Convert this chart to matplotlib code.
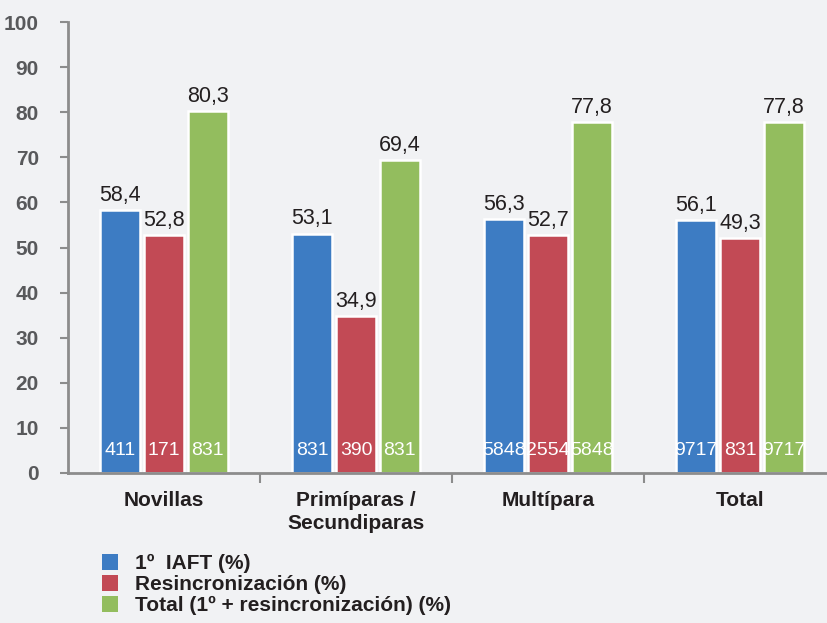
import numpy as np
import matplotlib.pyplot as plt
from matplotlib.patches import Patch

plt.rcParams['font.family'] = ['Liberation Sans', 'DejaVu Sans']

categories = ['Novillas', 'Primíparas /\nSecundiparas', 'Multípara', 'Total']
series = ['1º  IAFT (%)', 'Resincronización (%)', 'Total (1º + resincronización) (%)']
iaft = [58.4, 53.1, 56.3, 56.1]
resinc = [52.8, 34.9, 52.7, 52.0]
total = [80.3, 69.4, 77.8, 77.8]
top_labels = [['58,4', '53,1', '56,3', '56,1'],
              ['52,8', '34,9', '52,7', '49,3'],
              ['80,3', '69,4', '77,8', '77,8']]
n_labels = [['411', '831', '5848', '9717'],
            ['171', '390', '2554', '831'],
            ['831', '831', '5848', '9717']]
colors = ['#3d7cc3', '#c24a55', '#93bd5e']

bg = '#f1f2f4'
fig = plt.figure(figsize=(8.28, 6.23), dpi=100, facecolor=bg)
ax = fig.add_axes([68/828, 150/623, 760/828, 451/623], facecolor=bg)

x = np.arange(len(categories))
w = 0.21
offs = [-0.228, 0.0, 0.228]
for k, vals in enumerate([iaft, resinc, total]):
    bars = ax.bar(x + offs[k], vals, w, color=colors[k], edgecolor='white', linewidth=1.8)
    for j, b in enumerate(bars):
        cx = b.get_x() + b.get_width()/2
        ax.text(cx, b.get_height() + 0.9, top_labels[k][j], ha='center', va='bottom',
                fontsize=15.5, color='#231f20')
        ax.text(cx, 5, n_labels[k][j], ha='center', va='center', fontsize=14, color='white')

ax.set_xlim(-0.5, 3.458)
ax.set_ylim(0, 100)
ax.set_yticks(np.arange(0, 101, 10))
ax.tick_params(axis='y', length=6, width=1.5, color='#8c8c8c', labelsize=15,
               labelcolor='#58595b', pad=15)
for t in ax.get_yticklabels():
    t.set_fontweight('bold')
ax.set_xticks(x)
ax.set_xticklabels(categories, fontsize=15, fontweight='bold', color='#231f20',
                   linespacing=1.25)
ax.tick_params(axis='x', which='major', length=0, pad=13)
ax.set_xticks([0.5, 1.5, 2.5], minor=True)
ax.tick_params(axis='x', which='minor', length=7, width=1.5, color='#8c8c8c')
for s in ['top', 'right']:
    ax.spines[s].set_visible(False)
for s in ['left', 'bottom']:
    ax.spines[s].set_color('#8c8c8c')
    ax.spines[s].set_linewidth(2)

handles = [Patch(facecolor=c, edgecolor='none') for c in colors]
fig.legend(handles, series, loc='upper left', bbox_to_anchor=(102/828, 1 - 554/623),
           frameon=False, prop={'weight': 'bold', 'size': 15}, labelcolor='#231f20',
           handlelength=0.77, handleheight=0.77, handletextpad=0.8, labelspacing=0.1,
           borderaxespad=0, borderpad=0)

fig.savefig('out.png', dpi=100, facecolor=bg)
